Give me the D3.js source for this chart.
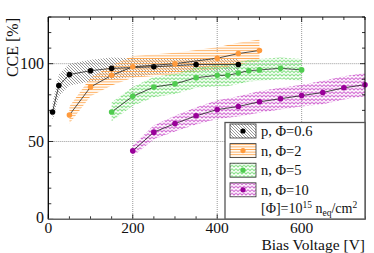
<!DOCTYPE html>
<html><head><meta charset="utf-8">
<script src="https://cdn.jsdelivr.net/npm/d3@7"></script>
<style>
html,body{margin:0;padding:0;background:#fff;}
svg{display:block;font-family:"Liberation Serif","Times New Roman",serif;}
</style></head>
<body>
<svg id="c" width="374" height="253"></svg>
<script>
// ---- data ----
const pV   = [10, 25, 50, 100, 150, 250, 350, 450];
const pCCE = [69, 86, 93, 95.5, 97, 98, 99.5, 99.5];
const pErr = [6, 7, 7, 7, 7, 5, 4, 4];

const n2V   = [50, 100, 150, 200, 300, 400, 450, 500];
const n2CCE = [67, 85, 92.5, 98, 100, 103.5, 106.5, 108.5];
const n2Err = [5.5, 6, 6.5, 7, 7, 7, 7, 7];

const n5V   = [150, 200, 250, 300, 350, 400, 425, 450, 475, 500, 550, 600];
const n5CCE = [69, 79, 85, 87, 91, 92.5, 92.5, 94, 95.5, 96, 97, 96];
const n5Err = [6, 6, 6.5, 6.5, 6.5, 7, 7, 7, 7, 7, 7, 7];

const n10V   = [200, 250, 300, 350, 400, 450, 500, 550, 600, 650, 700, 750];
const n10CCE = [44, 56, 61.5, 66.5, 70.5, 72.5, 75.5, 77.5, 79.5, 81.5, 84.5, 86.5];
const n10Err = [3.5, 4.5, 5, 5.5, 6, 6.5, 7, 7, 7, 7.5, 7.5, 7.5];

const seriesNames = ["p, \u03A6=0.6", "n, \u03A6=2", "n, \u03A6=5", "n, \u03A6=10"];
const xTicks = [0, 200, 400, 600];
const yTicks = [0, 50, 100];
const xLabel = "Bias Voltage [V]";
const yLabel = "CCE [%]";

// ---- setup ----
const svg = d3.select("#c");
const L = 48.3, R = 365, T = 17, B = 219.3;
const x = d3.scaleLinear().domain([0, 750]).range([L, R]);
const y = d3.scaleLinear().domain([0, 130]).range([B, T]);

const series = [
  {name: seriesNames[0], V: pV, C: pCCE, E: pErr, dot: "#000000", pat: "pBlack"},
  {name: seriesNames[1], V: n2V, C: n2CCE, E: n2Err, dot: "#ff9a3c", pat: "pOrange"},
  {name: seriesNames[2], V: n5V, C: n5CCE, E: n5Err, dot: "#4fcc4f", pat: "pGreen"},
  {name: seriesNames[3], V: n10V, C: n10CCE, E: n10Err, dot: "#990099", pat: "pPurple"}
];

const defs = svg.append("defs");
let p = defs.append("pattern").attr("id", "pBlack").attr("patternUnits", "userSpaceOnUse")
  .attr("width", 3).attr("height", 3);
p.append("path").attr("d", "M-1,-1 L4,4 M-1,2 L1,4 M2,-1 L4,1").attr("stroke", "#808080").attr("stroke-width", 0.8);
p = defs.append("pattern").attr("id", "pOrange").attr("patternUnits", "userSpaceOnUse")
  .attr("width", 4).attr("height", 2.6);
p.append("path").attr("d", "M0,1.3 L4,1.3").attr("stroke", "#ffaa55").attr("stroke-width", 1);
[["pGreen", "#77dd77"], ["pPurple", "#cc55cc"]].forEach(([id, col]) => {
  const q = defs.append("pattern").attr("id", id).attr("patternUnits", "userSpaceOnUse")
    .attr("width", 4).attr("height", 3.5);
  q.append("path").attr("d", "M0,0.6 L2,2.6 L4,0.6").attr("fill", "none").attr("stroke", col).attr("stroke-width", 0.9);
});

// grid
const grid = svg.append("g").attr("stroke", "#999").attr("stroke-width", 1).attr("stroke-dasharray", "1,1");
xTicks.filter(v => v > 0).forEach(v => grid.append("line").attr("x1", x(v)).attr("x2", x(v)).attr("y1", T).attr("y2", B));
yTicks.filter(v => v > 0).forEach(v => grid.append("line").attr("x1", L).attr("x2", R).attr("y1", y(v)).attr("y2", y(v)));

// bands
const area = d3.area().x(d => x(d.v)).y0(d => y(d.c - d.e)).y1(d => y(d.c + d.e));
const plotG = svg.append("g");
plotG.append("clipPath").attr("id", "clip").append("rect").attr("x", L).attr("y", T).attr("width", R - L).attr("height", B - T);
const bandG = plotG.append("g").attr("clip-path", "url(#clip)");
series.forEach(s => {
  const pts = s.V.map((v, i) => ({v, c: s.C[i], e: s.E[i]}));
  bandG.append("path").datum(pts).attr("d", area).attr("fill", `url(#${s.pat})`);
});
const line = d3.line().x(d => x(d.v)).y(d => y(d.c));
series.forEach(s => {
  const pts = s.V.map((v, i) => ({v, c: s.C[i]}));
  plotG.append("path").datum(pts).attr("d", line).attr("fill", "none").attr("stroke", "#222").attr("stroke-width", 0.8);
  plotG.selectAll(null).data(pts).enter().append("circle")
    .attr("cx", d => x(d.v)).attr("cy", d => y(d.c)).attr("r", 2.8).attr("fill", s.dot);
});

// axes ticks
const ax = svg.append("g").attr("stroke", "#000").attr("stroke-width", 0.8);
d3.range(0, 751, 50).forEach(v => {
  const len = (v % 200 === 0) ? 5 : 3;
  ax.append("line").attr("x1", x(v)).attr("x2", x(v)).attr("y1", B).attr("y2", B - len);
  ax.append("line").attr("x1", x(v)).attr("x2", x(v)).attr("y1", T).attr("y2", T + len);
});
d3.range(0, 131, 10).forEach(v => {
  const len = (v % 50 === 0) ? 5 : 3;
  ax.append("line").attr("x1", L).attr("x2", L + len).attr("y1", y(v)).attr("y2", y(v));
  ax.append("line").attr("x1", R).attr("x2", R - len).attr("y1", y(v)).attr("y2", y(v));
});
svg.append("line").attr("x1", L).attr("x2", R).attr("y1", T).attr("y2", T).attr("stroke", "#000").attr("stroke-width", 1);
svg.append("line").attr("x1", R).attr("x2", R).attr("y1", T).attr("y2", B).attr("stroke", "#000").attr("stroke-width", 1);
svg.append("line").attr("x1", L).attr("x2", L).attr("y1", T).attr("y2", B).attr("stroke", "#000").attr("stroke-width", 1.3);

// legend
const lg = svg.append("g");
lg.append("rect").attr("x", 225).attr("y", 122.5).attr("width", R - 225).attr("height", B - 122.5)
  .attr("fill", "#fff").attr("stroke", "#555").attr("stroke-width", 1.3);
series.forEach((s, i) => {
  const by = 124 + i * 19.6;
  lg.append("rect").attr("x", 230).attr("y", by).attr("width", 26).attr("height", 14)
    .attr("fill", `url(#${s.pat})`).attr("stroke", "#333").attr("stroke-width", 0.8);
  lg.append("circle").attr("cx", 243).attr("cy", by + 7).attr("r", 2.6).attr("fill", s.dot);
  lg.append("text").attr("x", 261).attr("y", by + 12).attr("font-size", 14.5).attr("fill", "#111").text(s.name);
});
const ft = lg.append("text").attr("x", 261).attr("y", 213).attr("font-size", 14).attr("fill", "#111");
ft.append("tspan").text("[\u03A6]=10");
ft.append("tspan").attr("font-size", 9.5).attr("dy", -5).text("15");
ft.append("tspan").attr("dy", 5).text(" n");
ft.append("tspan").attr("font-size", 9.5).attr("dy", 3).text("eq");
ft.append("tspan").attr("dy", -3).text("/cm");
ft.append("tspan").attr("font-size", 9.5).attr("dy", -5).text("2");

svg.append("line").attr("x1", L).attr("x2", R).attr("y1", B).attr("y2", B).attr("stroke", "#666").attr("stroke-width", 1.6);

// tick labels
svg.selectAll(null).data(xTicks).enter().append("text")
  .attr("x", d => x(d)).attr("y", 233).attr("text-anchor", "middle").attr("font-size", 15.5).attr("fill", "#111").text(d => d);
svg.selectAll(null).data(yTicks).enter().append("text")
  .attr("x", 44).attr("y", d => d === 0 ? y(d) + 4 : y(d) + 5.5).attr("text-anchor", "end").attr("font-size", 16).attr("fill", "#111").text(d => d);

// axis titles
svg.append("text").attr("x", R).attr("y", 249.5).attr("text-anchor", "end").attr("font-size", 15.5).attr("fill", "#111").text(xLabel);
svg.append("text").attr("transform", "translate(17.5,18) rotate(-90)").attr("text-anchor", "end")
  .attr("font-size", 16).attr("fill", "#111").text(yLabel);
</script>
</body></html>
